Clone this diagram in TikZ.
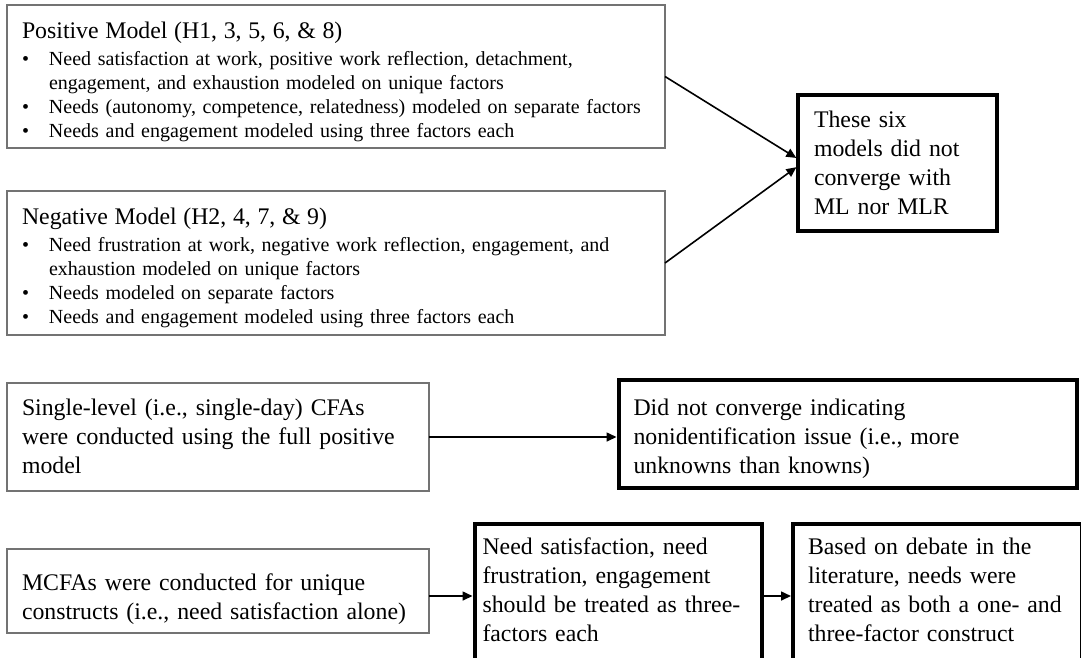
\documentclass[tikz,border=0pt]{standalone}
\usepackage{fontspec}
\setmainfont{Liberation Serif}
\usetikzlibrary{arrows.meta, positioning}

\newcommand{\bodyfont}{\fontsize{20}{24.2}\selectfont}
\newcommand{\largefont}{\fontsize{23.8}{29.3}\selectfont}
\newcommand{\modelitem}{\makebox[27pt][l]{\textbullet}}
\newcommand{\modelcont}{\hspace*{27pt}}

\begin{document}
\begin{tikzpicture}[x=1pt, y=-1pt,
    box/.style={anchor=north west, align=left, inner ysep=0pt, outer sep=0pt, font=\largefont},
    plainbox/.style={box, draw=black!55, line width=1.3pt},
    boldbox/.style={box, draw=black, line width=4pt},
    arr/.style={-{Triangle[length=10pt, width=9pt]}, line width=1.6pt}]
    \useasboundingbox (0,0) rectangle (1081,657);
    \clip (0,0) rectangle (1081,657);

    % Positive and negative model boxes
    \node[plainbox, font=\bodyfont, inner xsep=15pt, text width=628pt, text height=33pt, text depth=110pt] (pos) at (7,5) {%
        {\largefont Positive Model (H1, 3, 5, 6, \& 8)}\\[3pt]
        \modelitem Need satisfaction at work, positive work reflection, detachment,\\
        \modelcont engagement, and exhaustion modeled on unique factors\\
        \modelitem Needs (autonomy, competence, relatedness) modeled on separate factors\\
        \modelitem Needs and engagement modeled using three factors each};
    \node[plainbox, font=\bodyfont, inner xsep=15pt, text width=628pt, text height=33pt, text depth=111pt] (neg) at (7,191) {%
        {\largefont Negative Model (H2, 4, 7, \& 9)}\\[3pt]
        \modelitem Need frustration at work, negative work reflection, engagement, and\\
        \modelcont exhaustion modeled on unique factors\\
        \modelitem Needs modeled on separate factors\\
        \modelitem Needs and engagement modeled using three factors each};
    \node[boldbox, inner xsep=16pt, text width=167pt, text height=32pt, text depth=104pt] (six) at (798,95)
        {These six\\models did not\\converge with\\ML nor MLR};

    % Single-level CFA
    \node[plainbox, inner xsep=15pt, text width=392pt, text height=32pt, text depth=76pt] (single) at (7,383)
        {Single-level (i.e., single-day) CFAs\\were conducted using the full positive\\model};
    \node[boldbox, inner xsep=15pt, text width=428pt, text height=35pt, text depth=73pt] (nonid) at (618.5,380)
        {Did not converge indicating\\nonidentification issue (i.e., more\\unknowns than knowns)};

    % Multilevel CFAs
    \node[plainbox, inner xsep=15pt, text width=392pt, text height=41pt, text depth=43pt] (mcfa) at (7,549)
        {MCFAs were conducted for unique\\constructs (i.e., need satisfaction alone)};
    \node[boldbox, inner xsep=8pt, text width=271pt, text height=30pt, text depth=160pt] (three) at (474.5,524)
        {Need satisfaction, need\\frustration, engagement\\should be treated as three-\\factors each};
    \node[boldbox, inner xsep=15pt, text width=259pt, text height=30pt, text depth=160pt] (debate) at (793,524)
        {Based on debate in the\\literature, needs were\\treated as both a one- and\\three-factor construct};

    % Arrows
    \draw[arr, shorten >=2pt] (pos.east) -- ([yshift=4pt]six.west);
    \draw[arr, shorten >=2pt] (neg.east) -- ([yshift=-3pt]six.west);
    \draw[arr, shorten >=2pt] (single.east) -- (single.east -| nonid.west);
    \draw[arr, shorten >=2pt] ([yshift=-5pt]mcfa.east) -- ([yshift=-5pt]mcfa.east -| three.west);
    \draw[arr, shorten >=2pt] ([yshift=-5pt]mcfa.east -| three.east) -- ([yshift=-5pt]mcfa.east -| debate.west);
\end{tikzpicture}
\end{document}
